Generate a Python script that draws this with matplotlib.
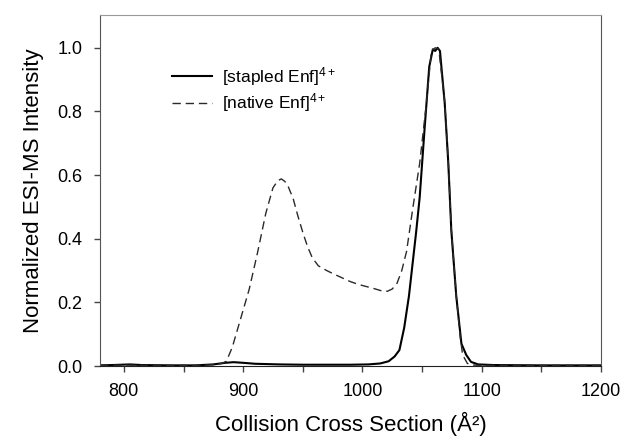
import matplotlib
matplotlib.use("Agg")
import matplotlib.pyplot as plt
from matplotlib.ticker import MultipleLocator

plt.rcParams['font.family'] = ['Liberation Sans', 'DejaVu Sans']
plt.rcParams['mathtext.fontset'] = 'custom'
plt.rcParams['mathtext.rm'] = 'Liberation Sans'
plt.rcParams['mathtext.it'] = 'Liberation Sans:italic'

# native Enf (dashed)
native_x = [780, 800, 820, 840, 860, 875, 882, 886, 891, 898, 905, 912, 919, 925, 929, 932,
            935, 938, 942, 946, 950, 954, 958, 963, 970, 976, 983, 990, 997, 1004, 1010,
            1017, 1021, 1025, 1029, 1033, 1037, 1042, 1048, 1053.6, 1057.8, 1061, 1064,
            1069, 1072, 1074.5, 1078.7, 1082, 1084, 1088, 1092, 1100, 1150, 1200]
native_y = [0.002, 0.003, 0.002, 0.002, 0.002, 0.004, 0.008, 0.015, 0.06, 0.15, 0.24, 0.355,
            0.48, 0.56, 0.582, 0.588, 0.58, 0.562, 0.525, 0.47, 0.42, 0.375, 0.34, 0.315,
            0.30, 0.289, 0.277, 0.265, 0.256, 0.249, 0.243, 0.235, 0.235, 0.242, 0.26, 0.30,
            0.36, 0.49, 0.637, 0.825, 0.99, 1.0, 0.995, 0.83, 0.64, 0.43, 0.22, 0.09, 0.035,
            0.008, 0.003, 0.002, 0.002, 0.002]

# stapled Enf (solid)
stapled_x = [780, 790, 805, 815, 840, 860, 875, 885, 892, 900, 910, 930, 950, 970, 990,
             1005, 1015, 1022, 1027, 1031, 1035, 1039, 1042, 1045, 1048, 1052, 1056, 1059,
             1061, 1063, 1065, 1069, 1072, 1074.5, 1078.7, 1083, 1087, 1091, 1097, 1110,
             1150, 1200]
stapled_y = [0.002, 0.003, 0.005, 0.003, 0.002, 0.002, 0.005, 0.01, 0.012, 0.01, 0.007,
             0.005, 0.004, 0.004, 0.004, 0.005, 0.008, 0.015, 0.03, 0.05, 0.12, 0.22, 0.32,
             0.42, 0.53, 0.74, 0.94, 0.995, 0.99, 1.0, 0.99, 0.825, 0.637, 0.427, 0.218,
             0.07, 0.035, 0.013, 0.005, 0.003, 0.002, 0.002]

labels = ["[stapled Enf]$^{\\mathrm{4+}}$", "[native Enf]$^{\\mathrm{4+}}$"]

fig = plt.figure(figsize=(6.23, 4.40), dpi=100)
ax = fig.add_axes([100/623, 74/440, 501/623, 351/440])

ax.plot(stapled_x, stapled_y, color='black', lw=1.5, label=labels[0])
ax.plot(native_x, native_y, color='#2a2a2a', lw=1.0, dashes=(6, 3.5), label=labels[1])

ax.set_xlim(780, 1200)
ax.set_ylim(0, 1.103)
ax.xaxis.set_major_locator(MultipleLocator(100))
ax.xaxis.set_minor_locator(MultipleLocator(50))
ax.yaxis.set_major_locator(MultipleLocator(0.2))
ax.yaxis.set_major_formatter(matplotlib.ticker.FormatStrFormatter('%.1f'))
ax.tick_params(axis='both', which='both', direction='out', length=4.5, width=1,
               labelsize=13, pad=8, color='#444444')
ax.tick_params(top=False, right=False)

for s in ['left', 'right']:
    ax.spines[s].set_color('#555555')
ax.spines['top'].set_color('#999999')
ax.spines['bottom'].set_color('#222222')

ax.set_xlabel("Collision Cross Section (Å²)", fontsize=16, labelpad=8)
ax.set_ylabel("Normalized ESI-MS Intensity", fontsize=16, labelpad=10)

leg = ax.legend(loc='center left', bbox_to_anchor=(0.144, 0.788), frameon=False,
                fontsize=12.5, handlelength=2.3, handletextpad=0.55, borderpad=0,
                borderaxespad=0, labelspacing=0.22)

fig.savefig("out.png", dpi=100)
